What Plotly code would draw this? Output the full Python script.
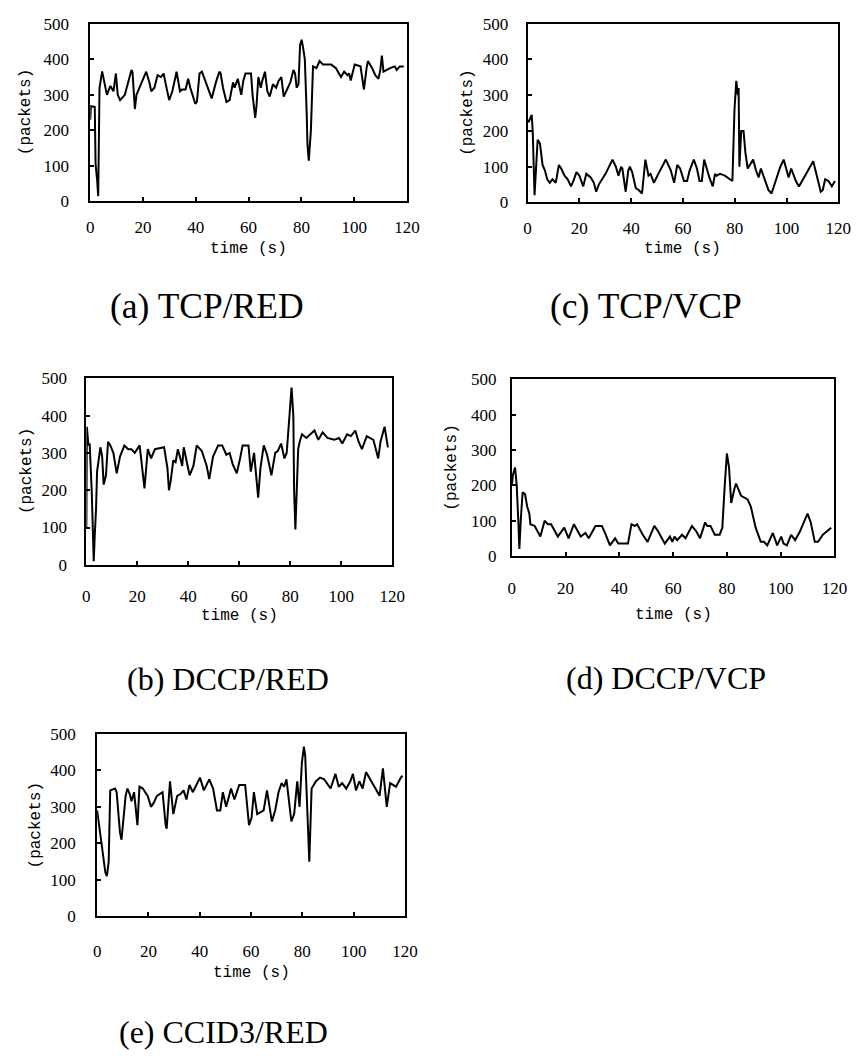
import plotly.graph_objects as go

# ---------------- data (time in s, queue length in packets) ----------------
a_t = [0, 0.25, 1.7, 2.0, 2.6, 3.0, 3.5, 4.5, 6.3, 7.6, 8.8, 9.7, 10.4, 11.3, 13.1, 14.4, 15.6, 16.0, 16.9, 17.5,
       18.7, 20.0, 21.2, 22.4, 23.1, 24.3, 25.5, 26.8, 27.8, 28.6, 29.9, 31.1, 32.4, 32.7, 34.0, 34.8, 36.1, 37.1,
       37.9, 39.8, 40.4, 41.4, 42.3, 43.5, 46.0, 47.6, 48.9, 49.4, 50.3, 51.6, 52.8, 54.1, 54.7, 55.9, 57.2, 58.0,
       58.8, 60.9, 61.5, 62.5, 63.0, 63.7, 64.6, 65.2, 66.2, 67.1, 68.0, 69.2, 70.4, 71.4, 72.4, 73.3, 74.2, 75.8,
       77.0, 77.6, 78.2, 78.9, 79.5, 80.1, 80.7, 81.3, 82.0, 82.3, 82.8, 83.6, 84.4, 85.7, 86.9, 88.2, 91.3, 93.1,
       95.0, 96.2, 97.5, 98.1, 98.7, 100.2, 102.4, 103.0, 103.7, 104.7, 105.2, 106.8, 108.0, 109.2, 109.9, 110.5,
       111.1, 113.6, 115.4, 116.1, 117.3, 118.8]
a_q = [230, 268, 266, 106, 60, 15, 320, 366, 300, 325, 310, 360, 300, 285, 300, 340, 370, 365, 260, 300,
       320, 345, 365, 335, 310, 320, 355, 350, 360, 330, 285, 310, 360, 365, 310, 315, 315, 345,
       320, 275, 280, 360, 365, 340, 290, 335, 365, 360, 320, 280, 285, 335, 320, 345, 300, 340,
       360, 360, 300, 235, 270, 350, 320, 340, 365, 310, 295, 330, 320, 340, 350, 295, 310, 335,
       370, 360, 320, 330, 440, 455, 430, 400, 250, 160, 115, 200, 380, 375, 395, 385, 385, 375,
       350, 365, 355, 360, 340, 385, 380, 350, 315, 375, 395, 375, 355, 345, 370, 410,
       365, 375, 380, 370, 380, 380]

c_t = [0, 0.4, 1.6, 2.0, 2.7, 3.2, 3.9, 4.8, 5.8, 6.7, 7.6, 8.6, 9.6, 10.9, 12.1, 13.0, 14.3, 15.5, 16.8, 17.7,
       18.9, 20.0, 21.5, 22.7, 24.4, 25.6, 26.5, 27.5, 30.1, 32.8, 34.1, 35.1, 36.1, 36.6, 37.9, 38.9, 39.5, 40.4,
       41.8, 42.9, 44.2, 45.5, 46.7, 47.5, 48.8, 50.5, 53.4, 55.3, 56.6, 57.8, 58.9, 60.4, 61.6, 62.6, 64.2, 65.4,
       66.4, 67.3, 68.2, 70.2, 71.5, 72.4, 73.0, 74.3, 76.2, 78.1, 79.1, 79.9, 80.6, 81.2, 81.5, 81.8, 82.5, 83.4,
       84.1, 85.0, 87.1, 88.2, 89.2, 90.1, 91.9, 93.0, 94.2, 95.7, 97.6, 98.9, 100.8, 101.8, 103.6, 104.8, 107.7,
       110.3, 111.5, 113.2, 114.0, 114.9, 116.2, 117.5, 118.7]
c_q = [230, 225, 245, 200, 20, 100, 175, 165, 105, 90, 65, 55, 65, 55, 105, 95, 75, 65, 45, 60,
       85, 75, 45, 80, 70, 55, 30, 50, 80, 120, 100, 75, 100, 95, 30, 90, 100, 85,
       40, 35, 25, 120, 75, 80, 55, 80, 120, 90, 55, 105, 95, 60, 60, 90, 120, 95,
       60, 60, 120, 70, 45, 80, 75, 80, 75, 65, 60, 260, 340, 300, 320, 100, 200, 200,
       140, 95, 120, 90, 70, 95, 60, 35, 25, 60, 100, 120, 70, 95, 60, 45, 80,
       115, 80, 30, 35, 65, 60, 45, 60]

b_t = [0, 0.2, 0.8, 1.3, 2.1, 2.6, 2.9, 3.3, 3.8, 4.2, 4.9, 5.5, 6.2, 6.8, 7.7, 8.5, 9.4, 10.6, 11.9, 13.2,
       14.9, 16.4, 17.7, 19.0, 20.9, 22.2, 22.8, 24.1, 25.4, 26.9, 30.5, 31.8, 32.4, 33.1, 34.1, 35.0, 35.9, 36.7,
       37.6, 38.2, 39.5, 40.5, 42.0, 43.3, 45.3, 47.2, 48.2, 49.7, 51.7, 53.3, 54.9, 56.2, 57.4, 59.0, 60.3, 61.3,
       63.6, 64.5, 65.8, 66.4, 67.4, 68.3, 69.6, 70.9, 72.6, 74.1, 75.1, 76.4, 77.7, 78.6, 79.9, 80.5, 81.2, 81.5,
       82.0, 83.1, 83.7, 84.6, 86.3, 89.5, 91.0, 92.7, 94.6, 97.2, 99.1, 100.4, 102.3, 103.8, 105.5, 106.8, 108.1,
       110.0, 112.6, 114.5, 115.4, 117.0, 118.3]
b_q = [100, 370, 320, 325, 200, 100, 10, 80, 150, 250, 290, 315, 290, 215, 240, 330, 320, 300, 245, 290,
       320, 310, 310, 300, 320, 240, 205, 310, 285, 310, 315, 260, 200, 225, 280, 275, 310, 290,
       265, 315, 270, 240, 265, 320, 305, 265, 230, 290, 320, 320, 295, 300, 270, 245, 285, 320,
       320, 250, 300, 260, 180, 260, 320, 295, 240, 300, 305, 325, 285, 300, 420, 475, 400, 200,
       95, 310, 330, 350, 340, 360, 335, 355, 340, 335, 340, 325, 350, 345, 360, 330, 310,
       345, 335, 285, 330, 370, 315]

d_t = [0, 0.4, 1.2, 1.8, 2.4, 2.8, 3.3, 4.0, 4.9, 5.7, 6.5, 6.9, 8.5, 10.6, 12.2, 13.4, 14.6, 17.1, 19.5, 21.1,
       23.1, 25.6, 27.4, 28.6, 31.1, 33.5, 34.7, 36.5, 38.4, 39.6, 43.2, 44.5, 45.7, 46.6, 48.7, 50.5, 53.0, 54.4,
       56.9, 58.8, 59.7, 60.5, 61.5, 63.3, 64.6, 67.0, 68.6, 70.0, 71.9, 72.7, 73.9, 75.5, 77.3, 78.3, 79.2, 80.0,
       80.8, 81.6, 82.8, 83.4, 85.3, 87.7, 88.9, 90.7, 92.6, 93.8, 95.0, 97.1, 98.7, 100.2, 101.1, 102.3, 103.9,
       105.4, 107.2, 110.0, 111.2, 112.7, 113.9, 115.7, 118.8]
d_q = [200, 230, 250, 200, 100, 20, 100, 180, 175, 140, 120, 90, 85, 55, 100, 90, 90, 55, 80, 50,
       90, 55, 65, 50, 85, 85, 65, 30, 50, 35, 35, 90, 85, 90, 60, 40, 85, 70,
       35, 55, 40, 55, 45, 60, 50, 85, 70, 50, 95, 85, 85, 60, 60, 80, 200, 290,
       250, 150, 190, 205, 170, 160, 140, 80, 40, 40, 30, 65, 30, 55, 35, 30, 60,
       45, 70, 120, 95, 40, 40, 60, 80]

e_t = [0, 1.7, 3.2, 3.8, 4.5, 5.1, 7.0, 7.6, 8.9, 9.5, 10.6, 11.1, 11.8, 12.7, 13.4, 14.4, 15.7, 16.5, 17.8, 19.7,
       21.0, 22.0, 23.3, 25.5, 26.7, 27.1, 28.4, 29.7, 31.2, 32.5, 33.7, 34.8, 36.0, 37.3, 40.1, 41.6, 43.7, 45.2,
       46.7, 48.0, 49.0, 50.3, 52.2, 53.5, 55.4, 57.7, 59.2, 60.2, 61.1, 62.4, 64.9, 66.2, 68.1, 69.4, 70.7, 71.9,
       72.9, 73.8, 75.7, 76.8, 78.0, 78.9, 79.8, 80.6, 81.1, 81.9, 82.4, 82.7, 83.6, 85.3, 86.9, 88.5, 91.0, 92.9,
       94.2, 95.5, 97.1, 98.7, 99.7, 100.9, 102.2, 103.5, 104.8, 106.9, 109.5, 110.1, 111.4, 112.9, 114.2, 116.5,
       118.4, 119.0]
e_q = [290, 200, 120, 110, 150, 345, 350, 340, 230, 210, 280, 330, 350, 335, 315, 340, 250, 355, 350, 330,
       300, 310, 330, 340, 250, 240, 370, 280, 330, 335, 345, 320, 360, 340, 380, 345, 375, 350,
       290, 290, 340, 300, 350, 320, 360, 360, 250, 270, 340, 280, 290, 345, 260, 290, 340, 365,
       355, 375, 260, 280, 370, 300, 420, 465, 440, 300, 190, 150, 350, 370, 380, 375, 350, 390,
       355, 365, 350, 370, 390, 345, 370, 350, 395, 370, 335, 330, 405, 300, 365, 355,
       380, 385]

x_ticks = [0, 20, 40, 60, 80, 100, 120]
y_ticks = [0, 100, 200, 300, 400, 500]

titles = ["(a) TCP/RED", "(c) TCP/VCP", "(b) DCCP/RED", "(d) DCCP/VCP", "(e) CCID3/RED"]
series = [(a_t, a_q), (c_t, c_q), (b_t, b_q), (d_t, d_q), (e_t, e_q)]

# ---------------- layout geometry (pixels) ----------------
W, H = 868, 1058
# (left, right, top, bottom) of each plot frame
frames = [(88, 411, 15, 196), (534, 851, 15, 197), (84, 396, 376, 566), (518, 847, 377, 557), (95, 409, 738, 924)]
ylab_gap = [16, 14, 14, 10, 16]
xlab_gap = [9, 9, 15, 16, 18]
time_y = [244, 244, 618, 617, 982]
pack_x = [22, 473, 23, 457, 33]
title_pos = [(207, 302), (655, 302), (228, 682), (675, 681), (224, 1042)]
title_size = [35.5, 35.5, 32, 32, 32]

fig = go.Figure()
annotations = []
for i, ((t, q), (l, r, tp, bt)) in enumerate(zip(series, frames)):
    n = "" if i == 0 else str(i + 1)
    fig.add_trace(go.Scatter(x=t, y=q, mode="lines", line=dict(color="black", width=2),
                             xaxis="x" + n, yaxis="y" + n, showlegend=False, hoverinfo="skip"))
    common = dict(showgrid=False, zeroline=False, showline=True, linecolor="black", linewidth=2,
                  mirror=True, ticks="inside", ticklen=4, tickwidth=1.5, tickcolor="black",
                  tickfont=dict(family="Liberation Serif, Times New Roman, serif", size=17, color="black"))
    fig.update_layout(**{
        "xaxis" + n: dict(domain=[l / W, r / W], anchor="y" + n, range=[0, 120], tickvals=x_ticks,
                          ticklabelstandoff=xlab_gap[i], **common),
        "yaxis" + n: dict(domain=[1 - bt / H, 1 - tp / H], anchor="x" + n, range=[0, 500], tickvals=y_ticks,
                          ticklabelstandoff=ylab_gap[i], **common),
    })
    mono = dict(family="Liberation Mono, DejaVu Sans Mono, monospace", size=16, color="black")
    annotations.append(dict(text="time (s)", x=(l + r) / 2 / W, y=1 - time_y[i] / H, xref="paper", yref="paper",
                            showarrow=False, font=mono, xanchor="center", yanchor="middle"))
    annotations.append(dict(text="(packets)", x=pack_x[i] / W, y=1 - (tp + bt) / 2 / H, xref="paper", yref="paper",
                            showarrow=False, font=mono, textangle=-90, xanchor="center", yanchor="middle"))
    tx, ty = title_pos[i]
    annotations.append(dict(text=titles[i], x=tx / W, y=1 - ty / H, xref="paper", yref="paper", showarrow=False,
                            font=dict(family="Liberation Serif, Times New Roman, serif", size=title_size[i],
                                      color="black"),
                            xanchor="center", yanchor="middle"))

fig.update_layout(width=W, height=H, margin=dict(l=0, r=0, t=0, b=0), paper_bgcolor="white",
                  plot_bgcolor="white", annotations=annotations, showlegend=False)

fig.write_html("out.html")
